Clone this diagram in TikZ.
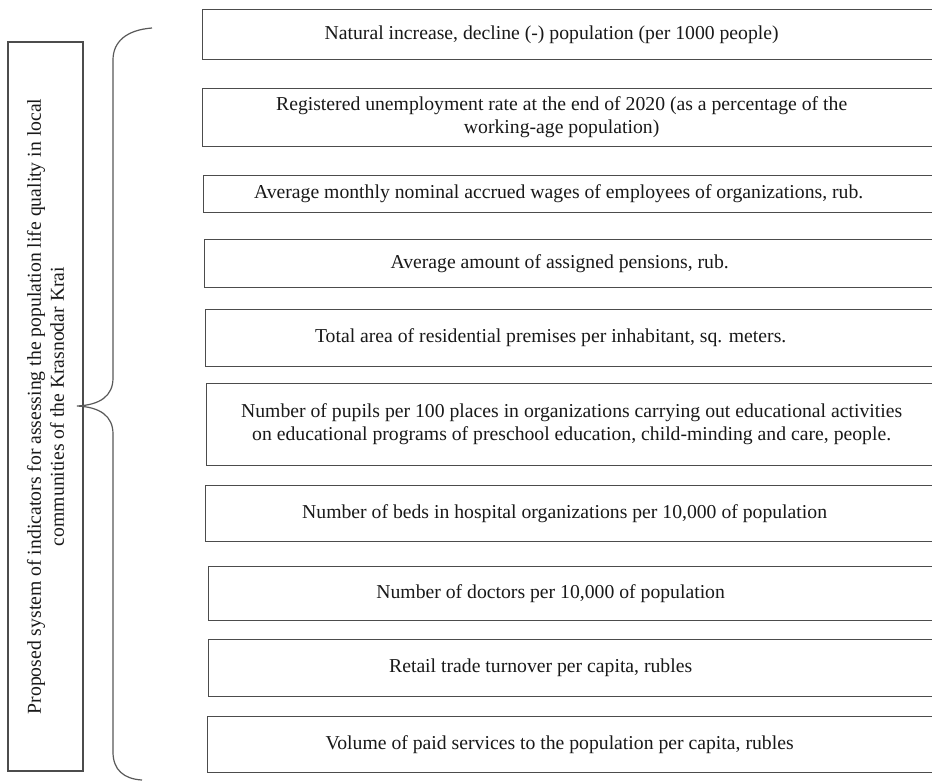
\documentclass[tikz,border=0pt]{standalone}
\usepackage{fontspec}
\setmainfont{Liberation Serif}
\usepackage{tikz}
\usetikzlibrary{positioning}

\tikzset{
  indbox/.style={draw=black!70,line width=1.3pt,anchor=north west,
    minimum width=740pt,inner sep=0pt},
  indtext/.style={align=center,xshift=-15pt,text=black!90,
    font=\fontsize{19.7}{23}\selectfont},
  brace/.style={draw=black!65,line width=1.2pt}
}

\begin{document}
\begin{tikzpicture}[x=1pt,y=-1pt]
            \clip (0,0) rectangle (932,781);
            \fill[white] (0,0) rectangle (932,781);
            % left box, rotated text
            \node[draw=black!70,line width=1.3pt,rotate=90,minimum width=729pt,
            minimum height=75pt,align=center,text=black!90,
            font=\fontsize{19.7}{23}\selectfont](sys) at (45.5,406.5)
            {Proposed system of indicators for assessing the population life quality in local\\
            communities of the Krasnodar Krai};
            % the brace
            \draw[brace] (152,28) .. controls (126,30) and (113,42) .. (113,60)
            -- (113,378) .. controls (113,396) and (100,405) .. (77,406)
            .. controls (100,407) and (113,416) .. (113,434)
            -- (113,752) .. controls (113,770) and (124,779) .. (142,780);
            % indicators
            \node[indbox,minimum height=50pt,label={[indtext,xshift=-6pt]center:Natural
            increase, decline (-) population (per 1000 people)}](nat) at (202,9) {};
            \node[indbox,minimum height=58pt,label={[indtext,xshift=4pt]center:Registered
            unemployment rate at the end of 2020 (as a percentage of the\\
            working-age population)}](unemp) at (202,88) {};
            \node[indbox,minimum height=37pt,label={[indtext]center:Average
            monthly nominal accrued wages of employees of organizations, rub.}](wage) at (203,175) {};
            \node[indbox,minimum height=48pt,label={[indtext]center:Average
            amount of assigned pensions, rub.}](pens) at (204,239) {};
            \node[indbox,minimum height=57pt,label={[indtext,xshift=-10pt]center:Total area
            of residential premises per inhabitant, sq. meters.}](area) at (205,309) {};
            \node[indbox,minimum height=82pt,label={[indtext,xshift=10pt]center:Number
            of pupils per 100 places in organizations carrying out educational activities\\
            on educational programs of preschool education, child-minding and care, people.}](pupil) at (206,383) {};
            \node[indbox,minimum height=56pt,label={[indtext,xshift=4pt]center:Number of
            beds in hospital organizations per 10,000 of population}](beds) at (205,485) {};
            \node[indbox,minimum height=54pt,label={[indtext,xshift=-13pt]center:Number of
            doctors per 10,000 of population}](doct) at (208,566) {};
            \node[indbox,minimum height=57pt,label={[indtext,xshift=-23pt]center:Retail trade
            turnover per capita, rubles}](retail) at (208,639) {};
            \node[indbox,minimum height=56pt,label={[indtext,xshift=-3pt]center:Volume of
            paid services to the population per capita, rubles}](serv) at (207,716) {};
        \end{tikzpicture}
\end{document}
